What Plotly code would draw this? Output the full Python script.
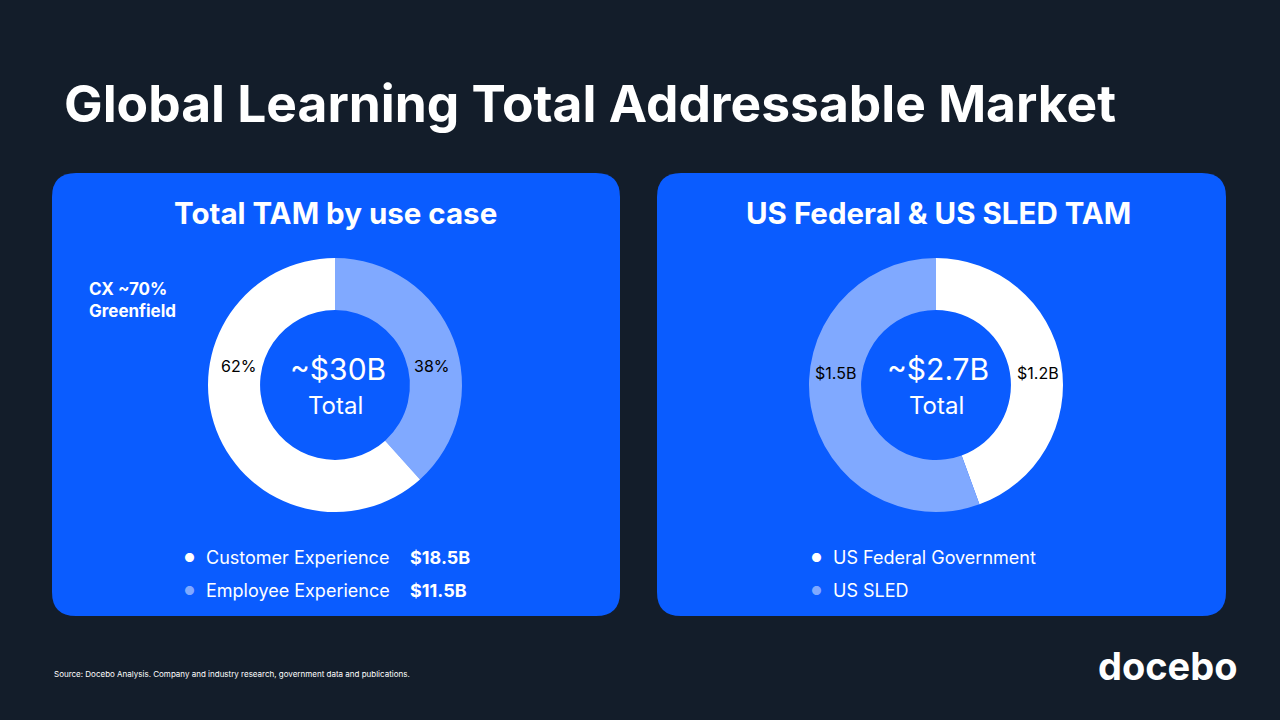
import plotly.graph_objects as go

W, H = 1280, 720
BG = "#131d2a"
PANEL = "#0a5cff"
WHITE = "#ffffff"
LIGHT = "#80a9ff"

left_labels = ["Employee Experience", "Customer Experience"]
left_values = [11.5, 18.5]
left_pct = ["38%", "62%"]
right_labels = ["US Federal Government", "US SLED"]
right_values = [1.2, 1.5]
right_text = ["$1.2B", "$1.5B"]

FONT = "Inter"


def px(x):
    return x / W


def py(y):
    return 1 - y / H


def rounded(x0, y0, x1, y1, r):
    # pixel coords -> paper path
    pts = lambda x, y: f"{px(x)},{py(y)}"
    return (f"M {pts(x0 + r, y0)} L {pts(x1 - r, y0)} Q {pts(x1, y0)} {pts(x1, y0 + r)} "
            f"L {pts(x1, y1 - r)} Q {pts(x1, y1)} {pts(x1 - r, y1)} "
            f"L {pts(x0 + r, y1)} Q {pts(x0, y1)} {pts(x0, y1 - r)} "
            f"L {pts(x0, y0 + r)} Q {pts(x0, y0)} {pts(x0 + r, y0)} Z")


fig = go.Figure()

R = 127
for cx, vals, labs, cols in [
    (335, left_values, left_labels, [LIGHT, WHITE]),
    (936, right_values, right_labels, [WHITE, LIGHT]),
]:
    fig.add_trace(go.Pie(
        values=vals, labels=labs, hole=0.59, sort=False, direction="clockwise",
        rotation=0, textinfo="none", hoverinfo="label+value",
        marker=dict(colors=cols, line=dict(width=0)), showlegend=False,
        domain=dict(x=[px(cx - R), px(cx + R)], y=[py(385 + R), py(385 - R)]),
    ))

shapes = [
    dict(type="path", path=rounded(52, 173, 620, 616, 24), xref="paper", yref="paper",
         fillcolor=PANEL, line=dict(width=0), layer="below"),
    dict(type="path", path=rounded(657, 173, 1226, 616, 24), xref="paper", yref="paper",
         fillcolor=PANEL, line=dict(width=0), layer="below"),
]

ann = []


def text(x, y, s, size, color=WHITE, xanchor="center", bold=False, align="center"):
    ann.append(dict(x=px(x), y=py(y), xref="paper", yref="paper", text=f"<b>{s}</b>" if bold else s,
                    showarrow=False, xanchor=xanchor, yanchor="middle", align=align,
                    font=dict(family=FONT, size=size, color=color)))


text(62, 103, "Global Learning Total Addressable Market", 51.5, xanchor="left", bold=True)
text(335, 213, "Total TAM by use case", 29.5, bold=True)
text(938, 213, "US Federal & US SLED TAM", 29.5, bold=True)
text(87, 300, "CX ~70%<br>Greenfield", 17, xanchor="left", bold=True, align="left")

text(338, 369, "~$30B", 30)
text(335, 405, "Total", 24)
text(938, 369, "~$2.7B", 30)
text(936, 405, "Total", 24)

text(432, 366, left_pct[0], 16, color="#000000")
text(238, 366, left_pct[1], 16, color="#000000")
text(1038, 373, right_text[0], 16, color="#000000")
text(835, 373, right_text[1], 16, color="#000000")

# legends
for i, (lab, col) in enumerate(zip([left_labels[1], left_labels[0]], [WHITE, LIGHT])):
    y = 557 + 33 * i
    text(189, y, "●", 12, color=col)
    text(204, y, lab, 18, xanchor="left")
    text(408, y, f"${[left_values[1], left_values[0]][i]}B", 18, xanchor="left", bold=True)
for i, (lab, col) in enumerate(zip(right_labels, [WHITE, LIGHT])):
    y = 557 + 33 * i
    text(816, y, "●", 12, color=col)
    text(831, y, lab, 18, xanchor="left")

text(52, 674, "Source: Docebo Analysis. Company and industry research, government data and publications.",
     8, xanchor="left")
text(1240, 666, "docebo", 38, xanchor="right", bold=True)

fig.update_layout(
    width=W, height=H, margin=dict(l=0, r=0, t=0, b=0),
    paper_bgcolor=BG, plot_bgcolor=BG, shapes=shapes, annotations=ann,
)
fig.write_html("out.html", config={"displayModeBar": False})

# drop the default page margin so the figure fills the window
with open("out.html", encoding="utf-8") as f:
    html = f.read()
html = html.replace("<head>", "<head><style>body{margin:0;background:#131d2a;}</style>", 1)
with open("out.html", "w", encoding="utf-8") as f:
    f.write(html)
